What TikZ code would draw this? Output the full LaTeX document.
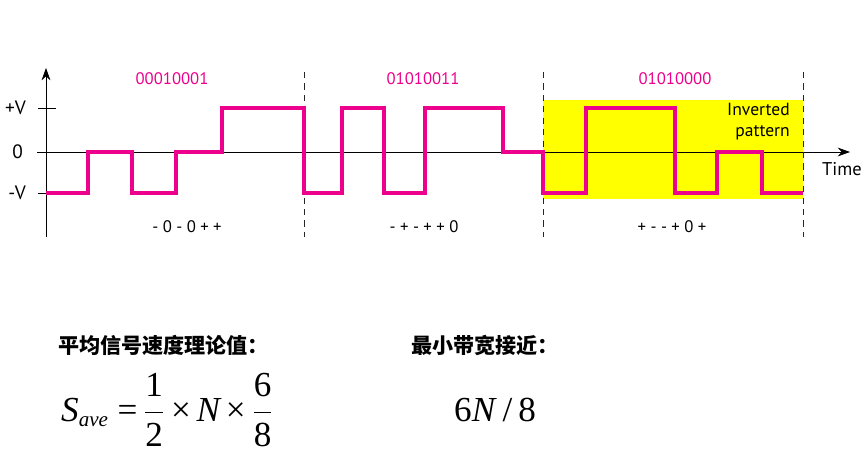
\documentclass[tikz,border=0pt]{standalone}
\usepackage{fontspec}
\setmainfont{PT Sans}
\newfontfamily\cjk{Noto Sans CJK SC}
\newfontfamily\tms{Liberation Serif}
\usetikzlibrary{arrows.meta}
\definecolor{mypink}{RGB}{236,0,140}
\definecolor{myyellow}{RGB}{255,255,0}

\begin{document}
\begin{tikzpicture}[x=0.02cm,y=-0.02cm,
	lbl/.style={font=\fontsize{9.5}{11}\selectfont},
	axlbl/.style={font=\fontsize{11}{12}\selectfont, anchor=east},
	bits/.style={lbl, text=mypink},
	cjklbl/.style={font=\cjk\bfseries\fontsize{12}{14}\selectfont, anchor=west},
	formula/.style={font=\tms\fontsize{20}{24}\selectfont, anchor=west}]
	
	\useasboundingbox (0,0) rectangle (865,457);
	\fill[white] (0,0) rectangle (865,457);
	
	\fill[myyellow] (543,100) rectangle (803,199);
	
	% axes
	\draw[thin, -{Stealth[length=7pt,width=5pt]}] (46,237) -- (46,68);
	\draw[thin, -{Stealth[length=7pt,width=5pt]}] (37,152) -- (850,152);
	\draw[thin] (38,108) -- (56,108);
	\draw[thin] (38,193) -- (46,193);
	
	\node[axlbl] (pv) at (32,108) {+V};
	\node[axlbl] (zero) at (29,152) {0};
	\node[axlbl] (mv) at (32,193) {-V};
	\node[font=\fontsize{10.5}{12}\selectfont] (time) at (842,169) {Time};
	
	\foreach \x in {304,543,803}
		\draw[black!85, dash pattern=on 3.5pt off 3pt] (\x,72) -- (\x,237);
	
	% signal
	\draw[mypink, line width=2pt] (46,193) -| (88,152) -| (132,193) -| (176,152) -| (222,108)
		-| (304,193) -| (342,108) -| (384,193) -| (425,108) -| (503,152) -| (543,193)
		-| (586,108) -| (675,193) -| (717,152) -| (762,193) -- (803,193);
	
	\node[bits] (b1) at (172,79) {00010001};
	\node[bits] (b2) at (423,79) {01010011};
	\node[bits] (b3) at (675,79) {01010000};
	
	\node[lbl] (t1) at (187,227) {- 0 - 0 + +};
	\node[lbl] (t2) at (424,227) {- + - + + 0};
	\node[lbl] (t3) at (672,227) {+ - - + 0 +};
	
	\node[font=\fontsize{10}{12}\selectfont, align=right, anchor=east] (inv) at (796,122) {Inverted\\pattern};
	
	\node[cjklbl] (rate) at (52,345) {平均信号速度理论值：};
	\node[cjklbl] (bw) at (405,345) {最小带宽接近：};
	
	\node[formula] (save) at (55,410)
		{$\displaystyle \hbox{\tms\itshape S}_{\hbox{\tms\itshape\fontsize{12}{14}\selectfont ave}}
		\hbox{\tms\ =\,}\frac{\hbox{\tms 1}}{\hbox{\tms 2}}\hbox{\tms\,×\,\itshape N\upshape\,×\,}\frac{\hbox{\tms 6}}{\hbox{\tms 8}}$};
	\node[formula] (nmin) at (448,410) {6\textit{N}\,/\,8};
	
\end{tikzpicture}
\end{document}
